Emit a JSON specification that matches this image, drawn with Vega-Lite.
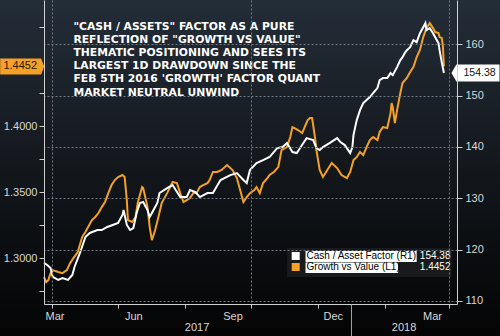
{
 "$schema": "https://vega.github.io/schema/vega-lite/v6.json",
 "width": 413,
 "height": 304,
 "autosize": {"type": "none"},
 "padding": {"left": 44, "right": 43, "top": 0, "bottom": 32},
 "background": "#040506",
 "config": {"view": {"stroke": null}, "axis": {"labelFont": "Liberation Sans", "labelFontSize": 11, "labelColor": "#d8d8d8", "domainColor": "#d0d0d0", "tickColor": "#d0d0d0"}},
 "datasets": {
  "cash": [
   {"date":"2017-03-25","v":117.39},{"date":"2017-03-28","v":117.00},{"date":"2017-03-31","v":116.42},{"date":"2017-04-02","v":114.67},
   {"date":"2017-04-07","v":114.09},{"date":"2017-04-11","v":114.47},{"date":"2017-04-16","v":114.09},{"date":"2017-04-20","v":115.06},
   {"date":"2017-04-22","v":116.61},{"date":"2017-04-27","v":119.34},{"date":"2017-05-02","v":122.45},{"date":"2017-05-06","v":123.23},
   {"date":"2017-05-13","v":123.81},{"date":"2017-05-17","v":123.81},{"date":"2017-05-22","v":124.40},{"date":"2017-05-27","v":124.79},
   {"date":"2017-06-01","v":125.18},{"date":"2017-06-05","v":126.73},{"date":"2017-06-06","v":127.70},{"date":"2017-06-09","v":124.79},
   {"date":"2017-06-12","v":123.81},{"date":"2017-06-15","v":124.20},{"date":"2017-06-18","v":127.12},{"date":"2017-06-21","v":129.07},
   {"date":"2017-06-24","v":129.26},{"date":"2017-06-28","v":127.70},{"date":"2017-06-30","v":126.34},{"date":"2017-07-02","v":127.12},
   {"date":"2017-07-07","v":129.07},{"date":"2017-07-09","v":131.01},{"date":"2017-07-16","v":131.98},{"date":"2017-07-21","v":132.57},
   {"date":"2017-07-28","v":130.23},{"date":"2017-08-03","v":130.23},{"date":"2017-08-06","v":131.60},{"date":"2017-08-11","v":131.21},
   {"date":"2017-08-15","v":130.23},{"date":"2017-08-22","v":131.01},{"date":"2017-08-27","v":131.01},{"date":"2017-09-03","v":133.54},
   {"date":"2017-09-12","v":134.51},{"date":"2017-09-18","v":134.90},{"date":"2017-09-24","v":133.54},{"date":"2017-09-27","v":132.96},
   {"date":"2017-09-30","v":135.49},{"date":"2017-10-06","v":136.85},{"date":"2017-10-12","v":137.43},{"date":"2017-10-18","v":138.02},
   {"date":"2017-10-25","v":139.77},{"date":"2017-10-30","v":139.96},{"date":"2017-11-03","v":140.74},{"date":"2017-11-08","v":138.99},
   {"date":"2017-11-12","v":138.79},{"date":"2017-11-15","v":139.77},{"date":"2017-11-18","v":140.74},{"date":"2017-11-21","v":141.71},
   {"date":"2017-11-27","v":141.32},{"date":"2017-11-30","v":139.77},{"date":"2017-12-03","v":139.38},{"date":"2017-12-06","v":139.96},
   {"date":"2017-12-12","v":140.74},{"date":"2017-12-19","v":141.71},{"date":"2017-12-22","v":140.93},{"date":"2017-12-26","v":140.35},
   {"date":"2017-12-31","v":138.79},{"date":"2018-01-02","v":139.96},{"date":"2018-01-03","v":142.30},{"date":"2018-01-06","v":145.21},
   {"date":"2018-01-09","v":147.16},{"date":"2018-01-12","v":148.52},{"date":"2018-01-15","v":149.11},{"date":"2018-01-18","v":149.69},
   {"date":"2018-01-21","v":150.47},{"date":"2018-01-25","v":151.44},{"date":"2018-01-27","v":153.00},{"date":"2018-01-30","v":153.39},
   {"date":"2018-02-03","v":153.39},{"date":"2018-02-06","v":154.36},{"date":"2018-02-08","v":153.97},{"date":"2018-02-12","v":155.53},
   {"date":"2018-02-15","v":156.89},{"date":"2018-02-17","v":157.47},{"date":"2018-02-19","v":158.25},{"date":"2018-02-21","v":158.83},
   {"date":"2018-02-24","v":159.42},{"date":"2018-02-27","v":160.78},{"date":"2018-03-02","v":160.39},{"date":"2018-03-05","v":162.14},
   {"date":"2018-03-08","v":163.31},{"date":"2018-03-10","v":164.09},{"date":"2018-03-11","v":162.72},{"date":"2018-03-14","v":163.11},
   {"date":"2018-03-17","v":162.14},{"date":"2018-03-19","v":161.36},{"date":"2018-03-22","v":160.19},{"date":"2018-03-23","v":158.83},
   {"date":"2018-03-25","v":156.50},{"date":"2018-03-27","v":154.38}
  ],
  "growth": [
   {"date":"2017-03-25","v":1.2856},{"date":"2017-03-27","v":1.2818},{"date":"2017-03-29","v":1.2833},{"date":"2017-03-31","v":1.2886},
   {"date":"2017-04-02","v":1.2909},{"date":"2017-04-07","v":1.2894},{"date":"2017-04-11","v":1.2886},{"date":"2017-04-15","v":1.2909},
   {"date":"2017-04-18","v":1.2962},{"date":"2017-04-21","v":1.3000},{"date":"2017-04-25","v":1.3045},{"date":"2017-04-29","v":1.3159},
   {"date":"2017-05-02","v":1.3197},{"date":"2017-05-04","v":1.3227},{"date":"2017-05-08","v":1.3288},{"date":"2017-05-11","v":1.3311},
   {"date":"2017-05-14","v":1.3341},{"date":"2017-05-17","v":1.3386},{"date":"2017-05-20","v":1.3424},{"date":"2017-05-23","v":1.3492},
   {"date":"2017-05-26","v":1.3553},{"date":"2017-05-29","v":1.3591},{"date":"2017-06-01","v":1.3614},{"date":"2017-06-05","v":1.3629},
   {"date":"2017-06-07","v":1.3614},{"date":"2017-06-09","v":1.3439},{"date":"2017-06-10","v":1.3288},{"date":"2017-06-14","v":1.3273},
   {"date":"2017-06-17","v":1.3311},{"date":"2017-06-19","v":1.3417},{"date":"2017-06-23","v":1.3538},{"date":"2017-06-24","v":1.3530},
   {"date":"2017-06-28","v":1.3386},{"date":"2017-06-30","v":1.3235},{"date":"2017-07-02","v":1.3136},{"date":"2017-07-05","v":1.3212},
   {"date":"2017-07-08","v":1.3311},{"date":"2017-07-11","v":1.3417},{"date":"2017-07-16","v":1.3492},{"date":"2017-07-21","v":1.3576},
   {"date":"2017-07-25","v":1.3568},{"date":"2017-07-28","v":1.3492},{"date":"2017-07-31","v":1.3424},{"date":"2017-08-03","v":1.3439},
   {"date":"2017-08-06","v":1.3455},{"date":"2017-08-09","v":1.3492},{"date":"2017-08-12","v":1.3492},{"date":"2017-08-15","v":1.3538},
   {"date":"2017-08-18","v":1.3553},{"date":"2017-08-22","v":1.3568},{"date":"2017-08-24","v":1.3591},{"date":"2017-08-27","v":1.3652},
   {"date":"2017-08-31","v":1.3652},{"date":"2017-09-04","v":1.3667},{"date":"2017-09-09","v":1.3705},{"date":"2017-09-14","v":1.3667},
   {"date":"2017-09-18","v":1.3606},{"date":"2017-09-21","v":1.3515},{"date":"2017-09-24","v":1.3424},{"date":"2017-09-27","v":1.3462},
   {"date":"2017-09-30","v":1.3492},{"date":"2017-10-04","v":1.3515},{"date":"2017-10-06","v":1.3538},{"date":"2017-10-09","v":1.3492},
   {"date":"2017-10-12","v":1.3568},{"date":"2017-10-16","v":1.3606},{"date":"2017-10-18","v":1.3629},{"date":"2017-10-22","v":1.3652},
   {"date":"2017-10-26","v":1.3689},{"date":"2017-10-29","v":1.3818},{"date":"2017-11-01","v":1.3833},{"date":"2017-11-03","v":1.3841},
   {"date":"2017-11-06","v":1.3917},{"date":"2017-11-08","v":1.3992},{"date":"2017-11-10","v":1.3985},{"date":"2017-11-13","v":1.3970},
   {"date":"2017-11-17","v":1.3947},{"date":"2017-11-20","v":1.4008},{"date":"2017-11-22","v":1.4045},{"date":"2017-11-24","v":1.4061},
   {"date":"2017-11-26","v":1.4061},{"date":"2017-11-27","v":1.4008},{"date":"2017-11-29","v":1.3894},{"date":"2017-11-30","v":1.3818},
   {"date":"2017-12-03","v":1.3667},{"date":"2017-12-06","v":1.3614},{"date":"2017-12-10","v":1.3667},{"date":"2017-12-14","v":1.3720},
   {"date":"2017-12-19","v":1.3682},{"date":"2017-12-23","v":1.3629},{"date":"2017-12-28","v":1.3606},{"date":"2017-12-31","v":1.3652},
   {"date":"2018-01-03","v":1.3742},{"date":"2018-01-06","v":1.3765},{"date":"2018-01-09","v":1.3803},{"date":"2018-01-12","v":1.3780},
   {"date":"2018-01-15","v":1.3841},{"date":"2018-01-18","v":1.3894},{"date":"2018-01-21","v":1.3917},{"date":"2018-01-25","v":1.3894},
   {"date":"2018-01-27","v":1.3955},{"date":"2018-01-30","v":1.3992},{"date":"2018-02-03","v":1.3985},{"date":"2018-02-06","v":1.4098},
   {"date":"2018-02-07","v":1.4174},{"date":"2018-02-08","v":1.4144},{"date":"2018-02-10","v":1.4023},{"date":"2018-02-12","v":1.4121},
   {"date":"2018-02-15","v":1.4250},{"date":"2018-02-17","v":1.4326},{"date":"2018-02-21","v":1.4364},{"date":"2018-02-24","v":1.4409},
   {"date":"2018-02-27","v":1.4447},{"date":"2018-03-02","v":1.4523},{"date":"2018-03-05","v":1.4576},{"date":"2018-03-08","v":1.4674},
   {"date":"2018-03-11","v":1.4742},{"date":"2018-03-14","v":1.4780},{"date":"2018-03-17","v":1.4742},{"date":"2018-03-19","v":1.4712},
   {"date":"2018-03-22","v":1.4705},{"date":"2018-03-23","v":1.4674},{"date":"2018-03-25","v":1.4667},{"date":"2018-03-26","v":1.4614},
   {"date":"2018-03-27","v":1.4452}
  ]
 },
 "resolve": {"scale": {"y": "independent"}, "axis": {"x": "independent", "y": "independent"}},
 "layer": [
  {
   "layer": [
    {
     "data": {"values": [{}]},
     "mark": {"type": "rect", "fill": {"gradient": "linear", "x1": 0, "y1": 0, "x2": 0, "y2": 1, "stops": [{"offset": 0, "color": "#242e39"}, {"offset": 0.4, "color": "#171c22"}, {"offset": 0.75, "color": "#0b0d10"}, {"offset": 1, "color": "#040404"}]}},
     "encoding": {
      "x": {"datum": {"year": 2017, "month": 2, "date": 1, "utc": true}, "type": "temporal"},
      "x2": {"datum": {"year": 2018, "month": 5, "date": 20, "utc": true}},
      "y": {"datum": 1.50, "type": "quantitative"},
      "y2": {"datum": 1.24}
     }
    },
    {
     "data": {"name": "growth"},
     "mark": {"type": "line", "color": "#f4a125", "strokeWidth": 2},
     "encoding": {
      "x": {"field": "date", "type": "temporal",
       "scale": {"type": "utc", "nice": false, "domain": [{"year": 2017, "month": 3, "date": 25, "utc": true}, {"year": 2018, "month": 4, "date": 8, "utc": true}]},
       "axis": {"orient": "bottom", "title": null, "zindex": 1, "labels": false, "ticks": true, "tickSize": 4, "tickColor": "#c8c8c8", "domain": true,
        "values": [{"year": 2017, "month": 4, "date": 1, "utc": true}, {"year": 2017, "month": 5, "date": 1, "utc": true}, {"year": 2017, "month": 6, "date": 1, "utc": true}, {"year": 2017, "month": 7, "date": 1, "utc": true}, {"year": 2017, "month": 8, "date": 1, "utc": true}, {"year": 2017, "month": 9, "date": 1, "utc": true}, {"year": 2017, "month": 10, "date": 1, "utc": true}, {"year": 2017, "month": 11, "date": 1, "utc": true}, {"year": 2017, "month": 12, "date": 1, "utc": true}, {"year": 2018, "month": 1, "date": 1, "utc": true}, {"year": 2018, "month": 2, "date": 1, "utc": true}, {"year": 2018, "month": 3, "date": 1, "utc": true}, {"year": 2018, "month": 4, "date": 1, "utc": true}],
        "grid": true, "gridColor": "#717a84", "gridDash": [2, 2],
        "gridOpacity": {"condition": {"test": "utcmonth(datum.value) % 3 == 0", "value": 1}, "value": 0}}},
      "y": {"field": "v", "type": "quantitative", "scale": {"domain": [1.2652, 1.4955], "zero": false, "nice": false},
       "axis": {"orient": "left", "title": null, "zindex": 1, "grid": false, "tickSize": 5, "labelPadding": 2,
        "values": [1.275, 1.3, 1.325, 1.35, 1.375, 1.4, 1.425, 1.475],
        "labelExpr": "indexof(['1.3000','1.3500','1.4000'], format(datum.value,'.4f')) >= 0 ? format(datum.value,'.4f') : ''"}}
     }
    },
    {
     "data": {"values": [{"v": 1.4452}]},
     "mark": {"type": "point", "shape": "M-1,-0.364L0.86,-0.364L1,0L0.86,0.364L-1,0.364Z", "filled": true, "color": "#f4a125", "opacity": 1, "size": 1936, "strokeWidth": 0},
     "encoding": {
      "x": {"datum": {"year": 2017, "month": 3, "date": 5, "utc": true}, "type": "temporal"},
      "y": {"field": "v", "type": "quantitative"}
     }
    },
    {
     "data": {"values": [{"v": 1.4452}]},
     "mark": {"type": "text", "font": "Liberation Sans", "fontSize": 11, "color": "#2a1800", "dx": -2, "align": "center", "baseline": "middle"},
     "encoding": {
      "x": {"datum": {"year": 2017, "month": 3, "date": 5, "utc": true}, "type": "temporal"},
      "y": {"field": "v", "type": "quantitative"},
      "text": {"field": "v", "type": "quantitative", "format": ".4f"}
     }
    }
   ]
  },
  {
   "layer": [
    {
     "data": {"name": "cash"},
     "mark": {"type": "line", "color": "#ffffff", "strokeWidth": 2},
     "encoding": {
      "x": {"field": "date", "type": "temporal",
       "scale": {"type": "utc", "nice": false, "domain": [{"year": 2017, "month": 3, "date": 25, "utc": true}, {"year": 2018, "month": 4, "date": 8, "utc": true}]},
       "axis": {"orient": "bottom", "title": null, "zindex": 1, "ticks": false, "domain": false, "grid": false, "format": "%b", "labelPadding": 6, "labelOverlap": false, "labelFlush": false,
        "values": [{"year": 2017, "month": 3, "date": 26, "utc": true}, {"year": 2017, "month": 6, "date": 15, "utc": true}, {"year": 2017, "month": 9, "date": 14, "utc": true}, {"year": 2017, "month": 12, "date": 15, "utc": true}, {"year": 2018, "month": 3, "date": 16, "utc": true}],
        "labelAlign": {"condition": {"test": "utcyear(datum.value) == 2017 && utcmonth(datum.value) == 2", "value": "left"}, "value": "center"}}},
      "y": {"field": "v", "type": "quantitative", "scale": {"domain": [109.4, 168.6], "zero": false, "nice": false},
       "axis": {"orient": "right", "title": null, "zindex": 1, "tickSize": 5, "labelPadding": 3,
        "values": [110, 115, 120, 125, 130, 135, 140, 145, 150, 155, 160, 165],
        "labelExpr": "datum.value % 10 == 0 ? datum.label : ''",
        "grid": true, "gridColor": "#717a84", "gridDash": [2, 2],
        "gridOpacity": {"condition": {"test": "datum.value % 10 == 0", "value": 1}, "value": 0}}}
     }
    },
    {
     "data": {"values": [{"v": 154.38}]},
     "mark": {"type": "point", "shape": "M-1,0L-0.8,-0.354L1,-0.354L1,0.354L-0.8,0.354Z", "filled": true, "color": "#ffffff", "opacity": 1, "size": 2304, "strokeWidth": 0},
     "encoding": {
      "x": {"datum": {"year": 2018, "month": 4, "date": 25, "utc": true}, "type": "temporal"},
      "y": {"field": "v", "type": "quantitative"}
     }
    },
    {
     "data": {"values": [{"v": 154.38}]},
     "mark": {"type": "text", "font": "Liberation Sans", "fontSize": 10.5, "color": "#111111", "dx": 4, "align": "center", "baseline": "middle"},
     "encoding": {
      "x": {"datum": {"year": 2018, "month": 4, "date": 25, "utc": true}, "type": "temporal"},
      "y": {"field": "v", "type": "quantitative"},
      "text": {"field": "v", "type": "quantitative", "format": ".2f"}
     }
    },
    {
     "data": {"values": [{}]},
     "mark": {"type": "text", "align": "left", "baseline": "top", "font": "DejaVu Sans", "fontWeight": "bold", "fontSize": 10.8, "lineHeight": 13.1, "color": "#ffffff"},
     "encoding": {
      "x": {"datum": {"year": 2017, "month": 4, "date": 21, "utc": true}, "type": "temporal"},
      "y": {"datum": 164.5, "type": "quantitative"},
      "text": {"value": ["\"CASH / ASSETS\" FACTOR AS A PURE", "REFLECTION OF \"GROWTH VS VALUE\"", "THEMATIC POSITIONING AND SEES ITS", "LARGEST 1D DRAWDOWN SINCE THE", "FEB 5TH 2016 'GROWTH' FACTOR QUANT", "MARKET NEUTRAL UNWIND"]}
     }
    },
    {
     "data": {"values": [{}]},
     "mark": {"type": "rect", "fill": "#1a1b1d", "opacity": 0.95},
     "encoding": {
      "x": {"datum": {"year": 2017, "month": 11, "date": 3, "utc": true}, "type": "temporal"},
      "x2": {"datum": {"year": 2018, "month": 4, "date": 3, "utc": true}},
      "y": {"datum": 120.31, "type": "quantitative"},
      "y2": {"datum": 114.67}
     }
    },
    {
     "data": {"values": [{}]},
     "mark": {"type": "point", "shape": "square", "filled": true, "color": "#ffffff", "opacity": 1, "size": 64},
     "encoding": {
      "x": {"datum": {"year": 2017, "month": 11, "date": 11, "utc": true}, "type": "temporal"},
      "y": {"datum": 118.75, "type": "quantitative"}
     }
    },
    {
     "data": {"values": [{}]},
     "mark": {"type": "point", "shape": "square", "filled": true, "color": "#f4a125", "opacity": 1, "size": 64},
     "encoding": {
      "x": {"datum": {"year": 2017, "month": 11, "date": 11, "utc": true}, "type": "temporal"},
      "y": {"datum": 116.6, "type": "quantitative"}
     }
    },
    {
     "data": {"values": [{}]},
     "mark": {"type": "rect", "fill": "#ffffff"},
     "encoding": {
      "x": {"datum": {"year": 2017, "month": 11, "date": 20, "utc": true}, "type": "temporal"},
      "x2": {"datum": {"year": 2018, "month": 3, "date": 2, "utc": true}},
      "y": {"datum": 119.73, "type": "quantitative"},
      "y2": {"datum": 117.59}
     }
    },
    {
     "data": {"values": [{}]},
     "mark": {"type": "rect", "fill": "#ffffff"},
     "encoding": {
      "x": {"datum": {"year": 2017, "month": 11, "date": 20, "utc": true}, "type": "temporal"},
      "x2": {"datum": {"year": 2018, "month": 2, "date": 13, "utc": true}},
      "y": {"datum": 117.49, "type": "quantitative"},
      "y2": {"datum": 115.45}
     }
    },
    {
     "data": {"values": [{"label": "Cash / Asset Factor (R1)", "last": "154.38"}]},
     "mark": {"type": "text", "font": "Liberation Sans", "fontSize": 10, "color": "#000000", "align": "left", "baseline": "middle", "dx": 1},
     "encoding": {
      "x": {"datum": {"year": 2017, "month": 11, "date": 20, "utc": true}, "type": "temporal"},
      "y": {"datum": 118.66, "type": "quantitative"},
      "text": {"field": "label", "type": "nominal"}
     }
    },
    {
     "data": {"values": [{"label": "Growth vs Value (L1)", "last": "1.4452"}]},
     "mark": {"type": "text", "font": "Liberation Sans", "fontSize": 10, "color": "#000000", "align": "left", "baseline": "middle", "dx": 1},
     "encoding": {
      "x": {"datum": {"year": 2017, "month": 11, "date": 20, "utc": true}, "type": "temporal"},
      "y": {"datum": 116.52, "type": "quantitative"},
      "text": {"field": "label", "type": "nominal"}
     }
    },
    {
     "data": {"values": [{"label": "Cash / Asset Factor (R1)", "last": "154.38"}]},
     "mark": {"type": "text", "font": "Liberation Sans", "fontSize": 10, "color": "#ffffff", "align": "right", "baseline": "middle"},
     "encoding": {
      "x": {"datum": {"year": 2018, "month": 4, "date": 2, "utc": true}, "type": "temporal"},
      "y": {"datum": 118.66, "type": "quantitative"},
      "text": {"field": "last", "type": "nominal"}
     }
    },
    {
     "data": {"values": [{"label": "Growth vs Value (L1)", "last": "1.4452"}]},
     "mark": {"type": "text", "font": "Liberation Sans", "fontSize": 10, "color": "#ffffff", "align": "right", "baseline": "middle"},
     "encoding": {
      "x": {"datum": {"year": 2018, "month": 4, "date": 2, "utc": true}, "type": "temporal"},
      "y": {"datum": 116.52, "type": "quantitative"},
      "text": {"field": "last", "type": "nominal"}
     }
    }
   ]
  },
  {
   "data": {"values": [{}]},
   "mark": {"type": "rule", "opacity": 0},
   "encoding": {
    "x": {"datum": {"year": 2018, "month": 1, "date": 1, "utc": true}, "type": "temporal",
     "scale": {"type": "utc", "nice": false, "domain": [{"year": 2017, "month": 3, "date": 25, "utc": true}, {"year": 2018, "month": 4, "date": 8, "utc": true}]},
     "axis": {"orient": "bottom", "title": null, "zindex": 1, "domain": false, "grid": false, "labelOverlap": false, "labelFlush": false,
      "values": [{"year": 2017, "month": 8, "date": 12, "utc": true}, {"year": 2018, "month": 1, "date": 1, "utc": true}, {"year": 2018, "month": 2, "date": 18, "utc": true}],
      "labelExpr": "utcmonth(datum.value) == 0 && utcdate(datum.value) == 1 ? '' : utcFormat(datum.value, '%Y')",
      "ticks": true, "tickSize": 32, "tickColor": "#a0a0a0",
      "tickOpacity": {"condition": {"test": "utcmonth(datum.value) == 0 && utcdate(datum.value) == 1", "value": 1}, "value": 0},
      "labelPadding": -15}}
   }
  }
 ]
}
